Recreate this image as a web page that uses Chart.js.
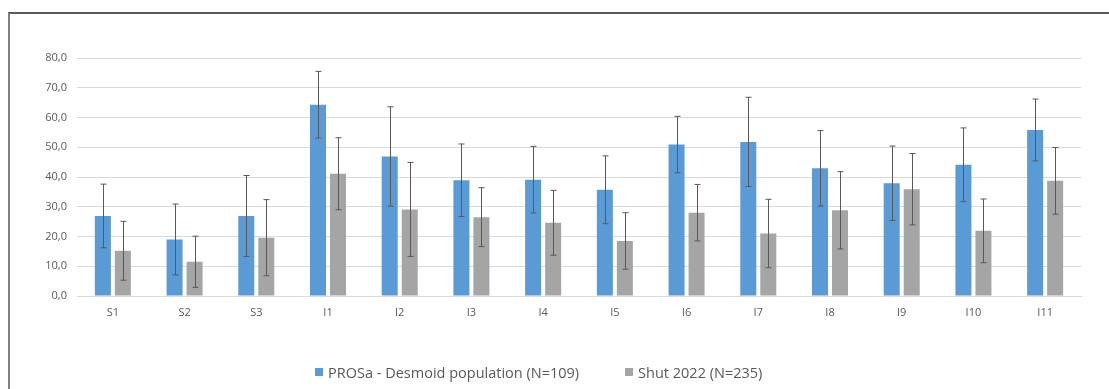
<!DOCTYPE html>
<html>
<head>
<meta charset="utf-8">
<script src="https://cdn.jsdelivr.net/npm/chart.js@4/dist/chart.umd.min.js"></script>
<style>
  html, body { margin: 0; padding: 0; background: #fff; overflow: hidden; }
  #wrap { position: relative; width: 1109px; height: 389px; }
  #frame {
    position: absolute; left: 8px; top: 12px; right: 0; bottom: -4px;
    border-top: 2px solid #5a5a5a; border-left: 2px solid #808080;
  }
  #chart { position: absolute; left: 0; top: 0; }
  #legend {
    position: absolute; left: 315px; top: 362px; height: 20px;
    display: flex; align-items: center;
    font-family: "Open Sans", sans-serif; font-size: 14.5px; color: #595959;
  }
  #legend .item { display: flex; align-items: center; margin-right: 46px; }
  #legend .box { width: 8px; height: 8px; margin-right: 5px; }
</style>
</head>
<body>
<div id="wrap">
  <div id="frame"></div>
  <canvas id="chart" width="1109" height="389"></canvas>
  <div id="legend"></div>
</div>
<script>
// categories
var categories = ["S1", "S2", "S3", "I1", "I2", "I3", "I4", "I5", "I6", "I7", "I8", "I9", "I10", "I11"];

// PROSa - Desmoid population: mean and +/- error
var prosaValues = [26.9, 19.0, 26.9, 64.3, 46.9, 38.9, 39.1, 35.7, 50.9, 51.8, 42.9, 37.9, 44.1, 55.8];
var prosaErrors = [10.7, 11.9, 13.6, 11.2, 16.7, 12.2, 11.2, 11.4, 9.5, 15.0, 12.7, 12.5, 12.4, 10.4];

// Shut 2022: mean and +/- error
var shutValues = [15.2, 11.5, 19.6, 41.1, 29.1, 26.5, 24.6, 18.5, 28.0, 21.0, 28.8, 35.9, 21.9, 38.7];
var shutErrors = [9.9, 8.6, 12.8, 12.1, 15.8, 9.9, 10.9, 9.5, 9.5, 11.5, 13.0, 12.0, 10.7, 11.2];

// y axis ticks
var yTicks = [0, 10, 20, 30, 40, 50, 60, 70, 80];

var seriesLabels = ["PROSa - Desmoid population (N=109)", "Shut 2022 (N=235)"];
var seriesColors = ["#5b9bd5", "#a5a5a5"];

function fmt(v) {
  return v.toFixed(1).replace(".", ",");
}

// draw the error whiskers through the y scale
var errorBars = {
  id: "errorBars",
  afterDatasetsDraw: function (chart) {
    var ctx = chart.ctx;
    var y = chart.scales.y;
    ctx.save();
    ctx.strokeStyle = "#595959";
    ctx.lineWidth = 1;
    chart.data.datasets.forEach(function (ds, di) {
      var meta = chart.getDatasetMeta(di);
      meta.data.forEach(function (bar, i) {
        var v = ds.data[i], e = ds.errors[i];
        var x = Math.round(bar.x) + 0.5;
        var top = y.getPixelForValue(v + e);
        var bot = y.getPixelForValue(v - e);
        ctx.beginPath();
        ctx.moveTo(x, top); ctx.lineTo(x, bot);
        ctx.moveTo(x - 3, top); ctx.lineTo(x + 3, top);
        ctx.moveTo(x - 3, bot); ctx.lineTo(x + 3, bot);
        ctx.stroke();
      });
    });
    ctx.restore();
  },
};

var c = new Chart(document.getElementById("chart"), {
  type: "bar",
  data: {
    labels: categories,
    datasets: [
      { label: seriesLabels[0], data: prosaValues, errors: prosaErrors, backgroundColor: seriesColors[0] },
      { label: seriesLabels[1], data: shutValues, errors: shutErrors, backgroundColor: seriesColors[1] },
    ],
  },
  options: {
    responsive: false,
    animation: false,
    devicePixelRatio: 1,
    categoryPercentage: 0.558,
    barPercentage: 0.8,
    layout: { padding: { left: 0, top: 58, right: 28, bottom: 63 } },
    plugins: { legend: { display: false }, tooltip: { enabled: false } },
    scales: {
      x: {
        grid: { display: false, drawTicks: false },
        border: { display: true, color: "#d9d9d9" },
        ticks: { padding: 10, color: "#595959", font: { family: "Open Sans", size: 11 } },
        afterFit: function (s) { s.height = 30; },
      },
      y: {
        min: 0,
        max: 80,
        afterBuildTicks: function (s) {
          s.ticks = yTicks.map(function (v) { return { value: v }; });
        },
        grid: { color: "#d9d9d9", drawTicks: false },
        border: { display: false },
        ticks: {
          padding: 10,
          color: "#595959",
          font: { family: "Open Sans", size: 11 },
          callback: function (v) { return fmt(v); },
        },
        afterFit: function (s) { s.width = 77; },
      },
    },
  },
  plugins: [errorBars],
});

// legend
var legend = document.getElementById("legend");
seriesLabels.forEach(function (l, i) {
  var item = document.createElement("div");
  item.className = "item";
  var box = document.createElement("span");
  box.className = "box";
  box.style.background = seriesColors[i];
  var txt = document.createElement("span");
  txt.textContent = l;
  item.appendChild(box);
  item.appendChild(txt);
  legend.appendChild(item);
});
</script>
</body>
</html>
